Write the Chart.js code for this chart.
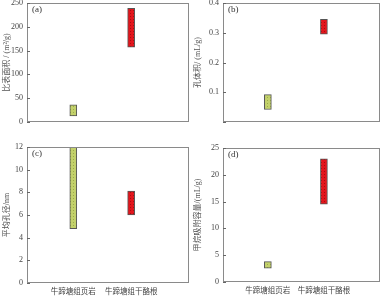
<!DOCTYPE html>
<html>
<head>
<meta charset="utf-8">
<script src="https://cdn.jsdelivr.net/npm/chart.js@4.4.1/dist/chart.umd.min.js"></script>
<style>
    html, body { margin: 0; padding: 0; background: #fff; }
    #wrap { position: relative; width: 382px; height: 297px; }
    #wrap canvas { position: absolute; }
</style>
</head>
<body>
<div id="wrap">
    <canvas id="c-a" width="191" height="140" style="left:0;top:0"></canvas>
    <canvas id="c-b" width="191" height="140" style="left:191px;top:0"></canvas>
    <canvas id="c-c" width="191" height="157" style="left:0;top:140px"></canvas>
    <canvas id="c-d" width="191" height="157" style="left:191px;top:140px"></canvas>
</div>
<script>
// categories along x (positions 1 and 2)
const categories = ['牛蹄塘组页岩', '牛蹄塘组干酪根'];
const catPos = [1, 2];

// min-max ranges per category
const surfaceArea = [[13, 36], [157, 239]];
const poreVolume = [[0.042, 0.092], [0.295, 0.345]];
const poreSize = [[4.8, 12], [6.0, 8.1]];
const methaneCap = [[2.6, 3.8], [14.5, 23]];

// y axis ticks
const ticksA = [0, 50, 100, 150, 200, 250];
const ticksB = [0, 0.1, 0.2, 0.3, 0.4];
const ticksC = [0, 2, 4, 6, 8, 10, 12];
const ticksD = [0, 5, 10, 15, 20, 25];

const SERIF = "'Liberation Serif', 'Times New Roman', 'Noto Sans CJK SC', serif";

function dotted(base, dot) {
    const c = document.createElement('canvas');
    c.width = 3; c.height = 3;
    const g = c.getContext('2d');
    g.fillStyle = base; g.fillRect(0, 0, 3, 3);
    g.fillStyle = dot; g.fillRect(1, 1, 1, 1);
    return g.createPattern(c, 'repeat');
}
const greenFill = dotted('#c3d16b', '#9bab48');
const redFill = dotted('#e3151c', '#a80c10');

// frame, inner tick marks and panel tag
const framePlugin = {
    id: 'frame',
    afterDraw(chart, args, opts) {
        const { ctx, chartArea: a } = chart;
        const y = chart.scales.y;
        ctx.save();
        ctx.strokeStyle = '#8a8a8a';
        ctx.lineWidth = 1;
        ctx.strokeRect(Math.round(a.left) + 0.5, Math.round(a.top) + 0.5,
            Math.round(a.right - a.left) - 1, Math.round(a.bottom - a.top) - 1);
        ctx.strokeStyle = '#666';
        y.ticks.forEach((t) => {
            const py = Math.round(y.getPixelForValue(t.value)) + 0.5;
            ctx.beginPath();
            ctx.moveTo(a.left, py);
            ctx.lineTo(a.left + 3, py);
            ctx.stroke();
        });
        ctx.fillStyle = '#333';
        ctx.font = '9px ' + SERIF;
        ctx.textBaseline = 'middle';
        ctx.fillText(opts.text, a.left + 5, a.top + 7);
        ctx.restore();
    },
};

function panel(id, { ranges, yTicks, title, tag, yWidth, pad, showX, fmt }) {
    const yMin = yTicks[0], yMax = yTicks[yTicks.length - 1];
    new Chart(document.getElementById(id), {
        type: 'bar',
        data: {
            datasets: [{
                data: ranges.map((r, i) => ({ x: catPos[i], y: r })),
                backgroundColor: [greenFill, redFill],
                borderColor: '#555',
                borderWidth: 1,
                borderSkipped: false,
                barThickness: 7,
            }],
        },
        options: {
            responsive: false,
            animation: false,
            layout: { padding: pad },
            plugins: { legend: { display: false }, tooltip: { enabled: false }, frame: { text: tag } },
            scales: {
                x: {
                    type: 'linear', min: 0.2, max: 3.0, offset: false,
                    display: showX,
                    grid: { display: false, offset: false, drawTicks: false },
                    border: { display: false },
                    afterBuildTicks: (s) => { s.ticks = catPos.map((v) => ({ value: v })); },
                    afterFit: (s) => { s.height = 14; s.paddingLeft = 0; s.paddingRight = 0; },
                    ticks: {
                        padding: 5, maxRotation: 0, autoSkip: false,
                        color: '#444', font: { family: SERIF, size: 7.5 },
                        callback: (v) => categories[catPos.indexOf(v)] || '',
                    },
                },
                y: {
                    min: yMin, max: yMax,
                    grid: { display: false, drawTicks: false },
                    border: { display: false },
                    afterBuildTicks: (s) => { s.ticks = yTicks.map((v) => ({ value: v })); },
                    afterFit: (s) => { s.width = yWidth; s.paddingTop = 0; s.paddingBottom = 0; },
                    ticks: {
                        padding: 4, color: '#444', font: { family: SERIF, size: 8 },
                        callback: fmt,
                    },
                    title: {
                        display: true, text: title, color: '#555',
                        padding: { top: 2, bottom: 0 },
                        font: { family: SERIF, size: 8 },
                    },
                },
            },
        },
        plugins: [framePlugin],
    });
}

panel('c-a', {
    ranges: surfaceArea, yTicks: ticksA, title: '比表面积 / (m²/g)', tag: '(a)',
    yWidth: 27, pad: { top: 3, right: 2, bottom: 4, left: 0 }, showX: false,
    fmt: (v) => String(v),
});
panel('c-b', {
    ranges: poreVolume, yTicks: ticksB, title: '孔体积/ (mL/g)', tag: '(b)',
    yWidth: 32, pad: { top: 3, right: 2, bottom: 4, left: 0 }, showX: false,
    fmt: (v) => (v === 0 ? '' : v.toFixed(1)),
});
panel('c-c', {
    ranges: poreSize, yTicks: ticksC, title: '平均孔径/nm', tag: '(c)',
    yWidth: 27, pad: { top: 7, right: 2, bottom: 0, left: 0 }, showX: true,
    fmt: (v) => String(v),
});
panel('c-d', {
    ranges: methaneCap, yTicks: ticksD, title: '甲烷吸附容量/(mL/g)', tag: '(d)',
    yWidth: 32, pad: { top: 8, right: 2, bottom: 1, left: 0 }, showX: true,
    fmt: (v) => String(v),
});
</script>
</body>
</html>
